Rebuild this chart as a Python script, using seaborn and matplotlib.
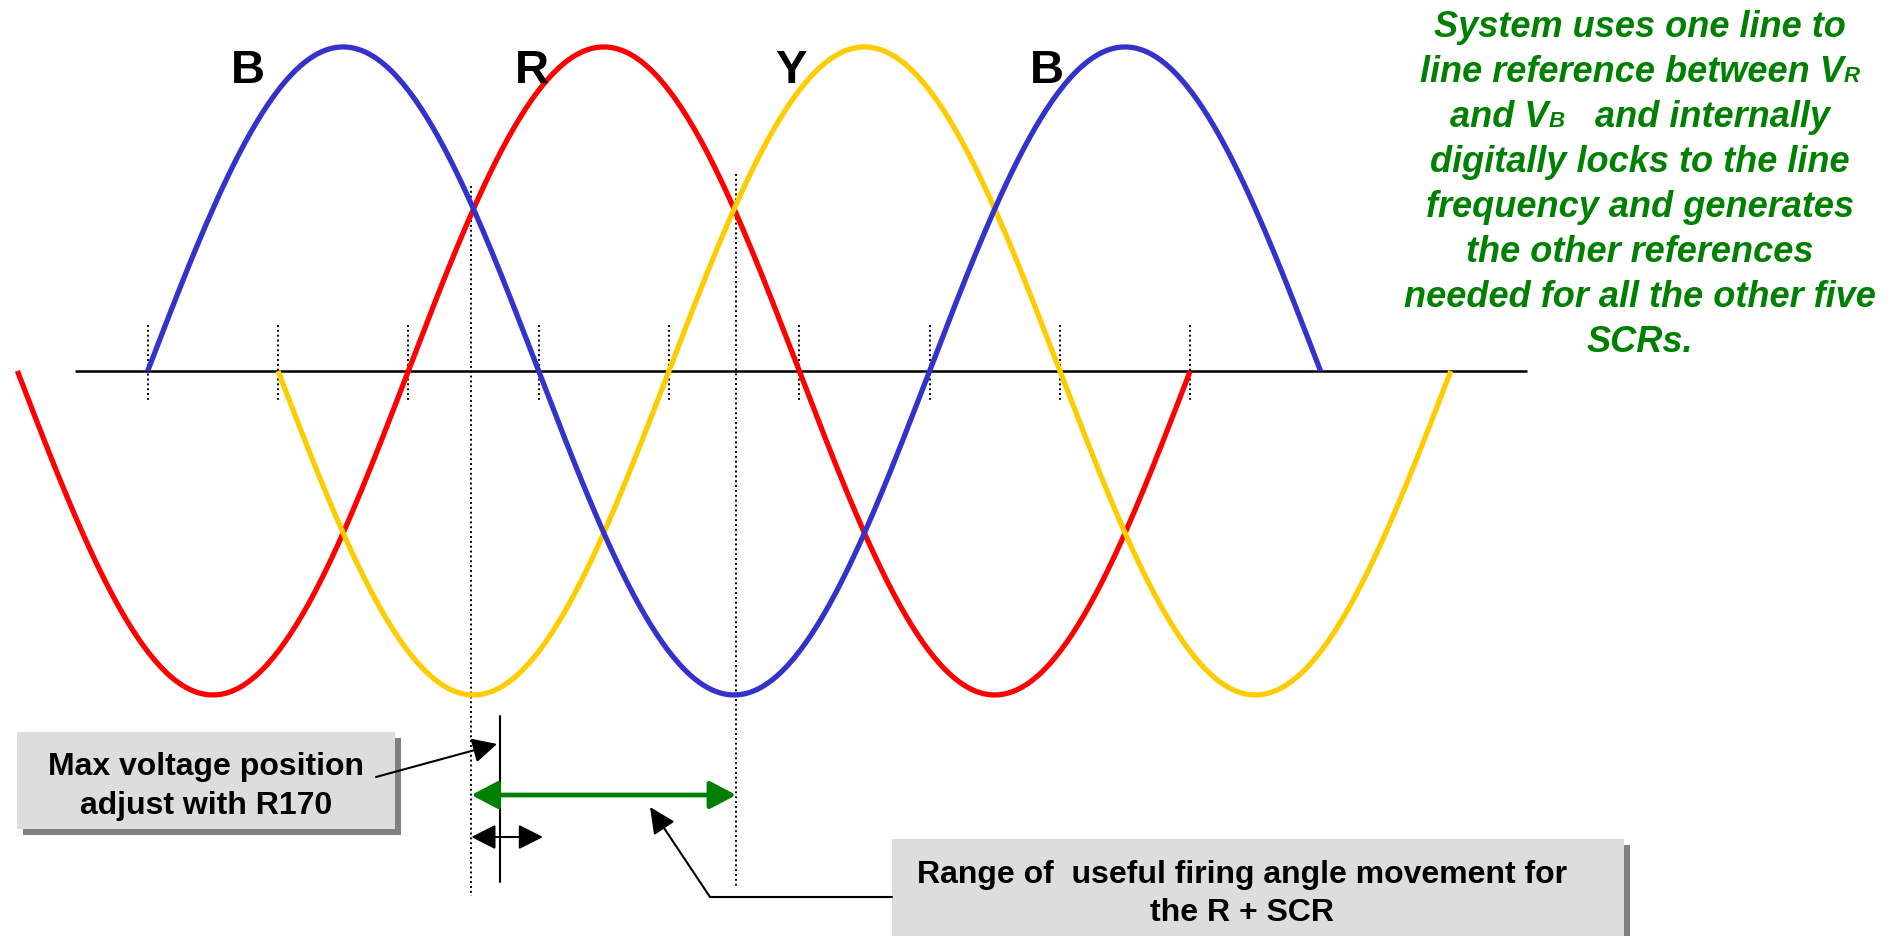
import numpy as np
import pandas as pd
import seaborn as sns
import matplotlib.pyplot as plt
import matplotlib.transforms as mtransforms
from matplotlib.patches import Rectangle
from matplotlib.offsetbox import TextArea, HPacker, AnnotationBbox

# three phase waveforms (angle in degrees, sin(angle + shift))
phases = ['R', 'Y', 'B']
phase_shift = [0, -120, 120]
phase_start = [-180, -60, -120]
phase_end = [360, 480, 420]
phase_colors = ['#FF0000', '#FFCC00', '#3333CC']
amplitude = 1.0

peak_labels = ['B', 'R', 'Y', 'B']
peak_label_deg = [-74, 57, 176, 294]

zero_ticks_deg = [-120, -60, 0, 60, 120, 180, 240, 300, 360]
crossing_deg = [29, 151]
adjust_deg = 42
adjust_span_deg = [29, 62]
firing_range_deg = [29, 151]

note_lines = [
    [('System uses one line to', 26)],
    [('line reference between V', 26), ('R', 16)],
    [('and V', 26), ('B', 16), ('   and internally', 26)],
    [('digitally locks to the line', 26)],
    [('frequency and generates', 26)],
    [('the other references', 26)],
    [('needed for all the other five', 26)],
    [('SCRs.', 26)],
]
box1_lines = ['Max voltage position', 'adjust with R170']
box2_lines = ['Range of  useful firing angle movement for', 'the R + SCR']

rows = []
for name, shift, a0, a1 in zip(phases, phase_shift, phase_start, phase_end):
    ang = np.linspace(a0, a1, 400)
    rows.append(pd.DataFrame({'angle': ang,
                              'voltage': amplitude * np.sin(np.radians(ang + shift)),
                              'phase': name}))
df = pd.concat(rows, ignore_index=True)

sns.set_style('white')
plt.rcParams['font.family'] = ['Liberation Sans', 'DejaVu Sans']
plt.rcParams['text.color'] = 'black'

fig = plt.figure(figsize=(19, 9.37), dpi=100)
ax = fig.add_axes([0, 0, 1, 1])
ax.set_xlim(-188.0, 686.8)
ax.set_ylim(-1.744, 1.148)
ax.axis('off')

# pixel coords of the picture (y down) and angle / pixel blend
px = mtransforms.Affine2D().scale(1 / 1900, -1 / 937).translate(0, 1) + fig.transFigure
bt = mtransforms.blended_transform_factory(ax.transData, px)

ax.plot([-153.5, 515], [0, 0], color='black', lw=1.8, zorder=1)
for a in zero_ticks_deg:
    ax.plot([a, a], [326, 401], transform=bt, color='black', lw=1.4,
            ls=(0, (1, 1.5)), zorder=1)
for a, top, bot in zip(crossing_deg, [187, 175], [897, 888]):
    ax.plot([a, a], [top, bot], transform=bt, color='black', lw=1.4,
            ls=(0, (1, 1.5)), zorder=1)

sns.lineplot(data=df, x='angle', y='voltage', hue='phase', hue_order=phases,
             palette=phase_colors, estimator=None, sort=False, linewidth=3.8,
             legend=False, ax=ax, zorder=2)
for line in ax.get_lines():
    line.set_solid_capstyle('butt')

for lab, a in zip(peak_labels, peak_label_deg):
    ax.text(a, 83, lab, transform=bt, ha='center', va='baseline',
            fontsize=34, fontweight='bold', color='black')

# green note on the right
for i, parts in enumerate(note_lines):
    children = [TextArea(s, textprops=dict(fontsize=fs, fontweight='bold',
                                           fontstyle='italic', color='#008000'))
                for s, fs in parts]
    box = HPacker(children=children, align='baseline', pad=0, sep=0)
    base = 37 + i * 45
    ab = AnnotationBbox(box, (1640, base - 9.4), xycoords=px,
                        box_alignment=(0.5, 0.5), frameon=False, pad=0,
                        annotation_clip=False)
    ax.add_artist(ab)

# grey text boxes with shadow
ax.add_patch(Rectangle((23, 739), 378, 97, transform=px, fc='#808080', ec='none', zorder=3))
ax.add_patch(Rectangle((17, 733), 378, 97, transform=px, fc='#DDDDDD', ec='none', zorder=3))
ax.add_patch(Rectangle((898, 846), 732, 120, transform=px, fc='#808080', ec='none', zorder=3))
ax.add_patch(Rectangle((892, 840), 732, 120, transform=px, fc='#DDDDDD', ec='none', zorder=3))
for txt, y in zip(box1_lines, [775, 814]):
    ax.text(206, y, txt, transform=px, ha='center', va='baseline', fontsize=23,
            fontweight='bold', color='black', zorder=4)
for txt, y in zip(box2_lines, [883, 921]):
    ax.text(1242, y, txt, transform=px, ha='center', va='baseline', fontsize=23,
            fontweight='bold', color='black', zorder=4)

# adjust marker and arrows
ax.plot([adjust_deg, adjust_deg], [717, 883], transform=bt, color='black', lw=1.5, zorder=3)
ax.annotate('', xy=(firing_range_deg[1], 796), xytext=(firing_range_deg[0], 796),
            xycoords=bt, textcoords=bt,
            arrowprops=dict(arrowstyle='<|-|>,head_length=0.8,head_width=0.42',
                            mutation_scale=20, color='#008000', lw=3.4,
                            shrinkA=0, shrinkB=0), zorder=3)
ax.annotate('', xy=(adjust_span_deg[1], 838), xytext=(adjust_span_deg[0], 838),
            xycoords=bt, textcoords=bt,
            arrowprops=dict(arrowstyle='<|-|>,head_length=0.75,head_width=0.38',
                            mutation_scale=20, color='black', lw=1.5,
                            shrinkA=0, shrinkB=0), zorder=3)
ax.annotate('', xy=(497, 745), xytext=(376, 778), xycoords=px, textcoords=px,
            arrowprops=dict(arrowstyle='-|>,head_length=0.75,head_width=0.38',
                            mutation_scale=20, color='black', lw=1.5,
                            shrinkA=0, shrinkB=0), zorder=5)
ax.plot([892, 710], [898, 898], transform=px, color='black', lw=1.5, zorder=3)
ax.annotate('', xy=(650, 808), xytext=(710, 898), xycoords=px, textcoords=px,
            arrowprops=dict(arrowstyle='-|>,head_length=0.8,head_width=0.38',
                            mutation_scale=20, color='black', lw=1.5,
                            shrinkA=0, shrinkB=0), zorder=3)

fig.savefig('out.png', dpi=100)
plt.close(fig)
